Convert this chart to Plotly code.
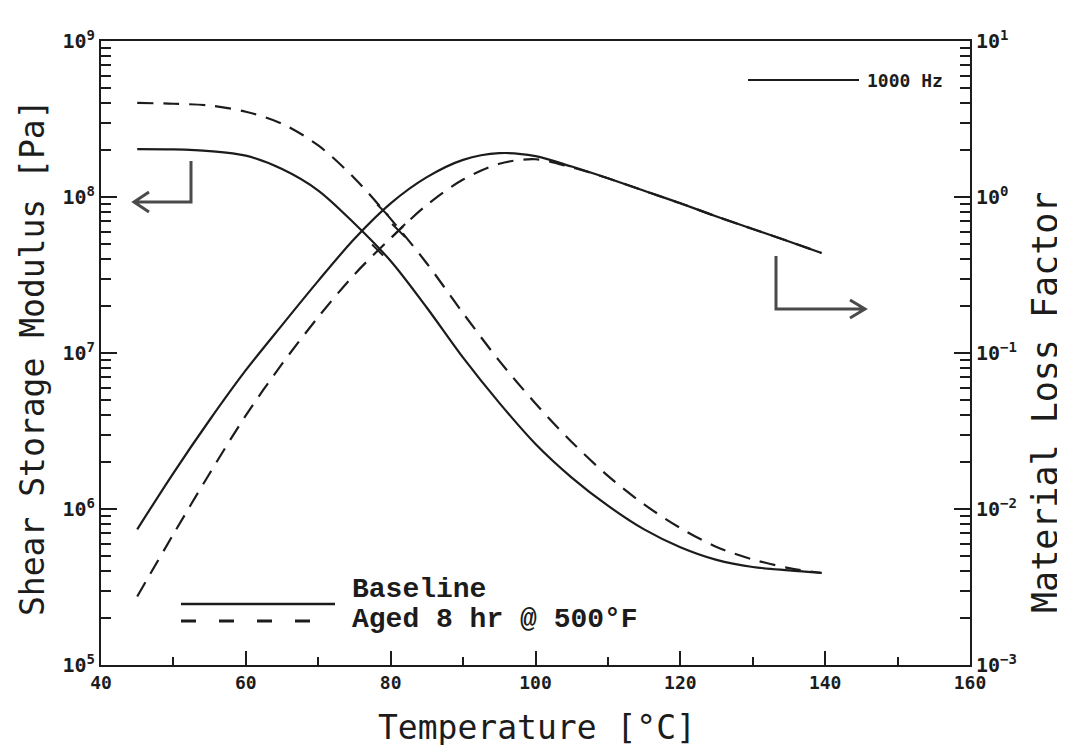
import plotly.graph_objects as go

# ---------------- data ----------------
temperature_c = [45, 50, 55, 60, 65, 70, 75, 80, 85, 90, 95, 100,
                 105, 110, 115, 120, 125, 130, 135, 139.5]

baseline_modulus_pa = [2.03e8, 2.02e8, 1.97e8, 1.84e8, 1.51e8, 1.10e8, 6.76e7,
                       3.89e7, 1.95e7, 9.33e6, 4.79e6, 2.61e6, 1.59e6, 1.05e6,
                       7.40e5, 5.69e5, 4.72e5, 4.25e5, 4.04e5, 3.89e5]
aged_modulus_pa = [4.01e8, 3.96e8, 3.86e8, 3.52e8, 2.95e8, 2.14e8, 1.32e8,
                   7.24e7, 3.75e7, 1.80e7, 8.91e6, 4.75e6, 2.69e6, 1.63e6,
                   1.07e6, 7.55e5, 5.71e5, 4.75e5, 4.18e5, 3.89e5]

baseline_loss_factor = [7.41e-3, 0.0170, 0.0372, 0.0776, 0.151, 0.290, 0.540,
                        0.910, 1.340, 1.730, 1.910, 1.828, 1.567, 1.318,
                        1.096, 0.912, 0.750, 0.624, 0.519, 0.438]
aged_loss_factor = [2.75e-3, 6.90e-3, 0.0169, 0.0398, 0.0851, 0.170, 0.319,
                    0.545, 0.889, 1.294, 1.633, 1.746, 1.549, 1.318,
                    1.096, 0.912, 0.750, 0.624, 0.519, 0.438]

# small crossover marks drawn on the curves
mark_lf_t = [78.9, 78.2]
mark_lf_v = [0.826, 0.457]
mark_g_t = [81.1]
mark_g_v = [6.1e7]

x_ticks = [40, 60, 80, 100, 120, 140, 160]
left_exponents = [5, 6, 7, 8, 9]
right_exponents = [-3, -2, -1, 0, 1]

# ---------------- styling ----------------
INK = "#1c1c1c"
GREY = "#4a4a4a"
MONO = "DejaVu Sans Mono"
TICKFONT = dict(family=MONO, size=18, color=INK, weight="bold")
YTICKFONT = dict(family=MONO, size=20, color=INK, weight="bold")

W, H = 1065, 745
L, R, T, B = 93, 962, 33, 657


def px(x):
    return (x - L) / (R - L)


def py(y):
    return (B - y) / (B - T)


def pow_labels(exps):
    return [f"10<sup>{e}</sup>".replace("-", "\u2212") for e in exps]


fig = go.Figure()

line_common = dict(color=INK, width=2.2, shape="spline", smoothing=0.9)

fig.add_trace(go.Scatter(x=temperature_c, y=baseline_modulus_pa, mode="lines",
                         line=dict(**line_common), yaxis="y", name="Baseline G'"))
fig.add_trace(go.Scatter(x=temperature_c, y=aged_modulus_pa, mode="lines",
                         line=dict(**line_common, dash="16px,10px"), yaxis="y",
                         name="Aged G'"))
fig.add_trace(go.Scatter(x=temperature_c, y=baseline_loss_factor, mode="lines",
                         line=dict(**line_common), yaxis="y2", name="Baseline LF"))
fig.add_trace(go.Scatter(x=temperature_c, y=aged_loss_factor, mode="lines",
                         line=dict(**line_common, dash="16px,10px"), yaxis="y2",
                         name="Aged LF"))

fig.add_trace(go.Scatter(x=mark_lf_t, y=mark_lf_v, mode="markers", yaxis="y2",
                         marker=dict(symbol="line-nw", size=11, color=INK,
                                     line=dict(color=INK, width=2))))
fig.add_trace(go.Scatter(x=mark_g_t, y=mark_g_v, mode="markers", yaxis="y",
                         marker=dict(symbol="x-thin", size=13, color=INK,
                                     line=dict(color=INK, width=2))))

axis_common = dict(showline=True, linecolor=INK, linewidth=2, showgrid=False,
                   zeroline=False, ticks="inside", tickcolor=INK, tickwidth=2)
minor_log = dict(ticks="inside", dtick="D1", ticklen=10, tickwidth=2,
                 tickcolor=INK, showgrid=False)

fig.update_layout(
    width=W, height=H,
    margin=dict(l=L, r=W - R, t=T, b=H - B),
    paper_bgcolor="white", plot_bgcolor="white",
    showlegend=False,
    xaxis=dict(**axis_common, tickfont=TICKFONT, range=[40, 160],
               tickvals=x_ticks, ticklen=14, mirror=True,
               minor=dict(ticks="inside", dtick=10, tick0=40, ticklen=8,
                          tickwidth=2, tickcolor=INK, showgrid=False)),
    yaxis=dict(**axis_common, tickfont=YTICKFONT, type="log", range=[5, 9],
               tickvals=[10.0 ** e for e in left_exponents],
               ticktext=pow_labels(left_exponents), ticklen=16,
               minor=minor_log),
    yaxis2=dict(**axis_common, tickfont=YTICKFONT, type="log", range=[-3, 1],
                tickvals=[10.0 ** e for e in right_exponents],
                ticktext=pow_labels(right_exponents), ticklen=16,
                side="right", overlaying="y", minor=minor_log),
)

# ---------------- axis titles ----------------
fig.add_annotation(text="Temperature [°C]", xref="paper", yref="paper",
                   x=px(529), y=py(719), xanchor="center", yanchor="middle",
                   showarrow=False, font=dict(family=MONO, size=33, color=INK))
fig.add_annotation(text="Shear Storage Modulus [Pa]", xref="paper", yref="paper",
                   x=px(24), y=py(350), xanchor="center", yanchor="middle",
                   textangle=-90, showarrow=False,
                   font=dict(family=MONO, size=33, color=INK))
fig.add_annotation(text="Material Loss Factor", xref="paper", yref="paper",
                   x=px(1037), y=py(395), xanchor="center", yanchor="middle",
                   textangle=-90, showarrow=False,
                   font=dict(family=MONO, size=35, color=INK))

# ---------------- 1000 Hz tag ----------------
fig.add_shape(type="line", xref="paper", yref="paper",
              x0=px(740), x1=px(851), y0=py(72), y1=py(72),
              line=dict(color=INK, width=2))
fig.add_annotation(text="1000 Hz", xref="paper", yref="paper",
                   x=px(857), y=py(72), xanchor="left", yanchor="middle",
                   showarrow=False,
                   font=dict(family=MONO, size=18, color=INK, weight="bold"))

# ---------------- axis pointer arrows ----------------
left_arrow = (f"M {px(183)},{py(153)} L {px(183)},{py(194)} L {px(127)},{py(194)} "
              f"M {px(141)},{py(184)} L {px(126)},{py(194)} L {px(141)},{py(204)}")
right_arrow = (f"M {px(768)},{py(248)} L {px(768)},{py(301)} L {px(856)},{py(301)} "
               f"M {px(842)},{py(292)} L {px(857)},{py(301)} L {px(842)},{py(310)}")
for p in (left_arrow, right_arrow):
    fig.add_shape(type="path", path=p, xref="paper", yref="paper",
                  line=dict(color=GREY, width=3))

# ---------------- custom legend ----------------
fig.add_shape(type="line", xref="paper", yref="paper",
              x0=px(173), x1=px(327), y0=py(596), y1=py(596),
              line=dict(color=INK, width=2.4))
fig.add_shape(type="line", xref="paper", yref="paper",
              x0=px(173), x1=px(305), y0=py(613), y1=py(613),
              line=dict(color=INK, width=3, dash="15px,23px"))
LEGFONT = dict(family="Liberation Mono", size=28, color=INK, weight="bold")
fig.add_annotation(text="Baseline", xref="paper", yref="paper",
                   x=px(342), y=py(581), xanchor="left", yanchor="middle",
                   showarrow=False, font=LEGFONT)
fig.add_annotation(text="Aged 8 hr @ 500°F", xref="paper", yref="paper",
                   x=px(342), y=py(611), xanchor="left", yanchor="middle",
                   showarrow=False, font=LEGFONT)

fig.write_html("out.html")
